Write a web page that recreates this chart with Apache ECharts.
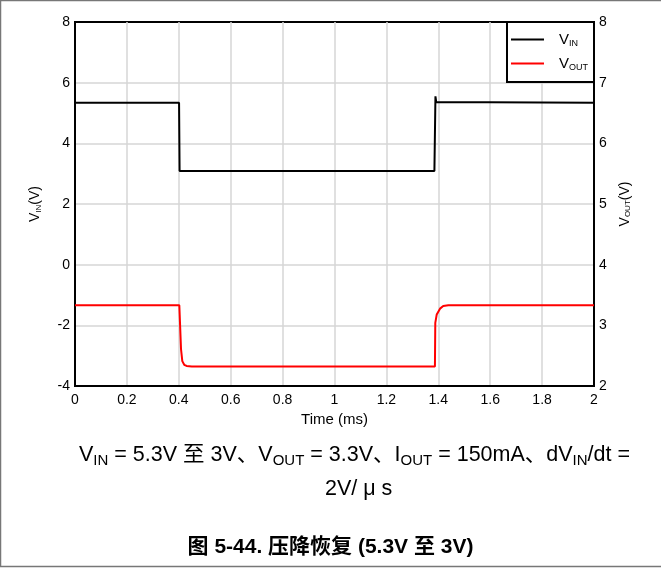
<!DOCTYPE html>
<html>
<head>
<meta charset="utf-8">
<script src="https://cdn.jsdelivr.net/npm/echarts@6/dist/echarts.min.js"></script>
<style>
  html, body { margin: 0; padding: 0; background: #fff; }
  #chart { width: 661px; height: 571px; }
</style>
</head>
<body>
<div id="chart"></div>
<script>
  // 时间轴 (ms)
  const xTicks = [0, 0.2, 0.4, 0.6, 0.8, 1, 1.2, 1.4, 1.6, 1.8, 2]
  const leftTicks = [-4, -2, 0, 2, 4, 6, 8]
  const rightTicks = [2, 3, 4, 5, 6, 7, 8]

  // V_IN 波形（左轴）
  const vinTime = [0, 0.401, 0.403, 1.385, 1.389, 1.392, 1.398, 2]
  const vinValue = [5.34, 5.34, 3.09, 3.09, 5.55, 5.36, 5.34, 5.34]

  // V_OUT 波形（右轴）
  const voutTime = [0, 0.402, 0.4085, 0.4135, 0.421, 0.430, 0.45, 1.387, 1.3884, 1.394, 1.4066, 1.419, 1.4386, 2]
  const voutValue = [3.33, 3.33, 2.61, 2.41, 2.35, 2.33, 2.32, 2.32, 3.04, 3.18, 3.275, 3.318, 3.33, 3.33]

  const seriesNames = ['VIN', 'VOUT']
  const subs = { VIN: 'IN', VOUT: 'OUT' }

  const font = 'Arial, "Liberation Sans", sans-serif'
  const cjk = 'Arial, "Liberation Sans", "Noto Sans CJK SC", sans-serif'

  const pair = (t, v) => t.map((x, i) => [x, v[i]])

  const chart = echarts.init(document.getElementById('chart'))

  const axisNameRich = {
    v: { fontSize: 14, color: '#000', fontFamily: font, lineHeight: 15 },
    s: { fontSize: 8, color: '#000', fontFamily: font, lineHeight: 15, verticalAlign: 'bottom' }
  }

  const option = {
    animation: false,
    backgroundColor: '#fff',
    textStyle: { fontFamily: font },
    grid: {
      left: 75,
      right: 67,
      top: 22,
      bottom: 185,
      show: true,
      borderColor: '#000',
      borderWidth: 2
    },
    legend: {
      data: seriesNames,
      orient: 'vertical',
      right: 67,
      top: 22,
      padding: [10, 6, 10, 4],
      itemGap: 8,
      itemWidth: 33,
      itemHeight: 2,
      icon: 'rect',
      borderColor: '#000',
      borderWidth: 2,
      backgroundColor: '#fff',
      formatter: (name) => '{v|V}{s|' + subs[name] + '}',
      textStyle: {
        padding: [0, 0, 0, 10],
        rich: {
          v: { fontSize: 15, fontFamily: font, color: '#000', lineHeight: 17 },
          s: { fontSize: 9, fontFamily: font, color: '#000', lineHeight: 17, verticalAlign: 'bottom' }
        }
      }
    },
    xAxis: {
      type: 'value',
      min: 0,
      max: 2,
      interval: 0.2,
      name: 'Time (ms)',
      nameLocation: 'middle',
      nameGap: 25,
      nameTextStyle: { fontSize: 15, color: '#000', fontFamily: font },
      axisLine: { show: true, onZero: false, lineStyle: { color: '#000', width: 2 } },
      axisTick: { show: false },
      axisLabel: {
        fontSize: 14,
        color: '#000',
        margin: 7,
        formatter: (v) => String(+v.toFixed(1))
      },
      splitLine: {
        show: true,
        showMinLine: false,
        showMaxLine: false,
        lineStyle: { color: '#d6d6d6', width: 1.5 }
      }
    },
    yAxis: [
      {
        type: 'value',
        position: 'left',
        min: leftTicks[0],
        max: leftTicks[leftTicks.length - 1],
        interval: 2,
        name: '{v|V}{s|IN}{v|(V)}',
        nameLocation: 'middle',
        nameGap: 32,
        nameTextStyle: { rich: axisNameRich },
        axisLine: { show: true, onZero: false, lineStyle: { color: '#000', width: 2 } },
        axisTick: { show: false },
        axisLabel: { fontSize: 14, color: '#000', margin: 5 },
        splitLine: {
          show: true,
          showMinLine: false,
          showMaxLine: false,
          lineStyle: { color: '#d6d6d6', width: 1.5 }
        }
      },
      {
        type: 'value',
        position: 'right',
        min: rightTicks[0],
        max: rightTicks[rightTicks.length - 1],
        interval: 1,
        name: '{v|V}{s|OUT}{v|(V)}',
        nameLocation: 'middle',
        nameGap: 22,
        nameTextStyle: { rich: axisNameRich },
        axisLine: { show: true, onZero: false, lineStyle: { color: '#000', width: 2 } },
        axisTick: { show: false },
        axisLabel: { fontSize: 14, color: '#000', margin: 5 },
        splitLine: { show: false }
      }
    ],
    series: [
      {
        name: 'VIN',
        type: 'line',
        yAxisIndex: 0,
        showSymbol: false,
        symbol: 'none',
        color: '#000',
        lineStyle: { color: '#000', width: 2 },
        data: pair(vinTime, vinValue)
      },
      {
        name: 'VOUT',
        type: 'line',
        yAxisIndex: 1,
        showSymbol: false,
        symbol: 'none',
        color: '#ff0000',
        lineStyle: { color: '#ff0000', width: 2 },
        data: pair(voutTime, voutValue)
      }
    ],
    graphic: [
      {
        type: 'rect',
        silent: true,
        shape: { x: 0.5, y: 0.5, width: 700, height: 566 },
        style: { fill: 'none', stroke: '#777', lineWidth: 1.5 }
      },
      {
        type: 'text',
        left: 79,
        top: 444,
        style: {
          text: '{n|V}{s|IN}{n| = 5.3V 至 3V、V}{s|OUT}{n| = 3.3V、I}{s|OUT}{n| = 150mA、dV}{s|IN}{n|/dt =}',
          rich: {
            n: { fontSize: 21.5, fontFamily: cjk, fill: '#000', lineHeight: 28 },
            s: { fontSize: 15, fontFamily: cjk, fill: '#000', lineHeight: 28, verticalAlign: 'bottom' }
          }
        }
      },
      {
        type: 'text',
        left: 325,
        top: 478,
        style: {
          text: '2V/ μ s',
          fontSize: 21.5,
          fontFamily: cjk,
          fill: '#000'
        }
      },
      {
        type: 'text',
        left: 'center',
        top: 537,
        style: {
          text: '图 5-44. 压降恢复 (5.3V 至 3V)',
          fontSize: 21,
          fontWeight: 'bold',
          fontFamily: cjk,
          fill: '#000'
        }
      }
    ]
  }

  chart.setOption(option)
  window.addEventListener('resize', () => {
    chart.resize()
  })
</script>
</body>
</html>
